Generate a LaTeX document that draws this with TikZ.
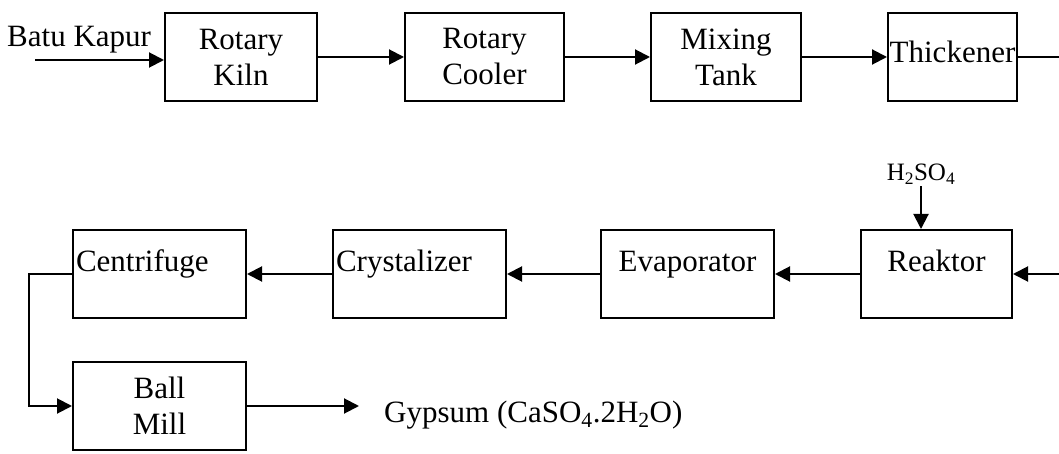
\documentclass[tikz,border=0pt]{standalone}
\usepackage{fontspec}
\setmainfont{Liberation Serif}
\usetikzlibrary{positioning,arrows.meta}

\begin{document}
\begin{tikzpicture}[node distance=85pt,
  block/.style={rectangle, draw, line width=2pt, minimum height=88pt, align=center, font=\fontsize{31}{36}\selectfont},
  leftblock/.style={block, text width=167pt, align=left, inner xsep=3pt},
  raised/.style={text height=22pt, text depth=28pt},
  arrow/.style={line width=2pt,-{Triangle[length=15pt,width=15pt]}},
  pipe/.style={line width=2pt}]

  \useasboundingbox (0,0) rectangle (1059pt,-454pt);
  \coordinate (rim) at (1059pt,0);

  % top row
  \node[block, minimum width=152pt] (kiln) at (241pt,-57pt) {Rotary\\Kiln};
  \node[block, minimum width=159pt, right=86pt of kiln] (cooler) {Rotary\\Cooler};
  \node[block, minimum width=150pt, right=of cooler] (mixing) {Mixing\\Tank};
  \node[block, minimum width=129pt, inner xsep=1pt, text height=22pt, text depth=11pt, right=of mixing] (thickener) {Thickener};

  \node[anchor=base west, inner sep=0pt, font=\fontsize{31}{36}\selectfont] (batu) at (7pt,-47pt) {Batu Kapur};
  \coordinate (feed) at (35pt,-60pt);

  % bottom row
  \node[block, raised, minimum width=151pt] (reaktor) at (936.5pt,-274pt) {Reaktor};
  \node[block, raised, minimum width=173pt, left=of reaktor] (evaporator) {Evaporator};
  \node[leftblock, raised, left=93pt of evaporator] (crystalizer) {Crystalizer};
  \node[leftblock, raised, left=of crystalizer] (centrifuge) {Centrifuge};
  \node[block, minimum width=173pt, below=42pt of centrifuge] (ballmill) {Ball\\Mill};

  \node[inner sep=2pt, font=\fontsize{25}{28}\selectfont] (acid) at (921pt,-174pt) {H\textsubscript{2}SO\textsubscript{4}};
  \coordinate (prod) at ([xshift=112pt]ballmill.east);
  \node[anchor=base west, inner sep=0pt, font=\fontsize{31}{36}\selectfont] (gypsum) at ([xshift=25pt,yshift=-16pt]prod) {Gypsum (CaSO\textsubscript{4}.2H\textsubscript{2}O)};

  \draw[arrow] (feed) -- (feed -| kiln.west);
  \draw[arrow] (kiln) -- (cooler);
  \draw[arrow] (cooler) -- (mixing);
  \draw[arrow] (mixing) -- (thickener);
  \draw[pipe] (thickener) -- (thickener.east -| rim);

  \draw[arrow] (reaktor.east -| rim) -- (reaktor);
  \draw[arrow] (acid) -- (acid |- reaktor.north);
  \draw[arrow] (reaktor) -- (evaporator);
  \draw[arrow] (evaporator) -- (crystalizer);
  \draw[arrow] (crystalizer) -- (centrifuge);
  \draw[arrow] (centrifuge.west) -- ++(-43pt,0) |- (ballmill.west);
  \draw[arrow] (ballmill) -- (prod);

\end{tikzpicture}
\end{document}
